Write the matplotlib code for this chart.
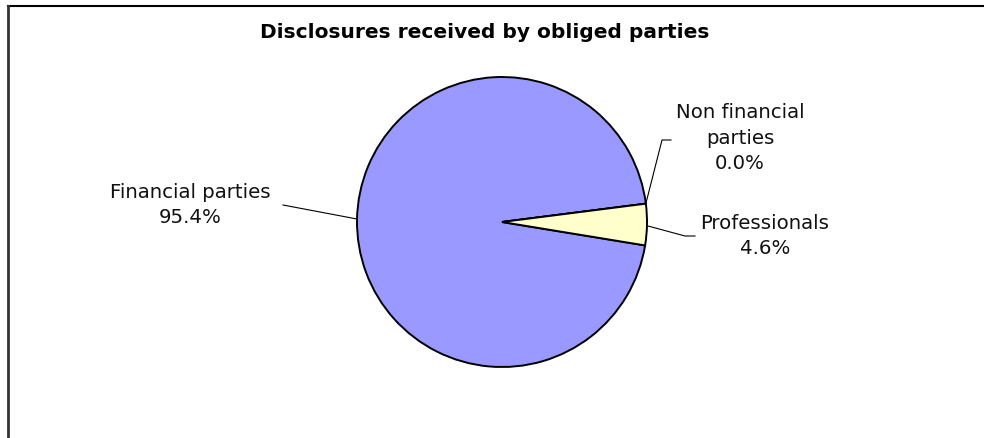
import numpy as np
import matplotlib.pyplot as plt
from matplotlib.lines import Line2D

# DATA
labels = ["Financial parties", "Non financial\nparties", "Professionals"]
shares = [95.4, 0.0, 4.6]
colors = ["#9999FF", "#FFFFFF", "#FFFFCC"]
title = "Disclosures received by obliged parties"

W, H = 984, 438
fig = plt.figure(figsize=(W / 100, H / 100), dpi=100)
ax = fig.add_axes([0, 0, 1, 1])

cx, cy, r = 502, H - 222, 145
start = -9.3
wedges, _ = ax.pie(shares, colors=colors, startangle=start, counterclock=False,
                   center=(cx, cy), radius=r, frame=True,
                   wedgeprops=dict(edgecolor="black", linewidth=1.4))
ax.set_xlim(0, W)
ax.set_ylim(0, H)
ax.axis("off")

fs = 14.2
# label placement (pixel coords from top-left), leader line points
layout = [
    dict(text=(190, 205), line=[(283, 205), (357, 219)]),
    dict(text=(740, 138), line=[(671, 140), (662, 140), (646, 203)]),
    dict(text=(765, 236), line=[(695, 236), (685, 236), (648, 226)]),
]
for lab, val, lay in zip(labels, shares, layout):
    tx, ty = lay["text"]
    ax.text(tx, H - ty, f"{lab}\n{val:.1f}%", ha="center", va="center",
            fontsize=fs, linespacing=1.45, color="#111111")
    xs = [p[0] for p in lay["line"]]
    ys = [H - p[1] for p in lay["line"]]
    ax.plot(xs, ys, color="black", lw=0.8)

fig.text(485 / W, 1 - 33 / H, title, ha="center", va="center",
         fontsize=14.5, fontweight="bold")

# border (only top and left visible)
fig.add_artist(Line2D([8 / W, 1], [1 - 6 / H, 1 - 6 / H], color="black", lw=1.5))
fig.add_artist(Line2D([8 / W, 8 / W], [0, 1 - 6 / H], color="#333333", lw=2))

fig.savefig("out.png", dpi=100)
